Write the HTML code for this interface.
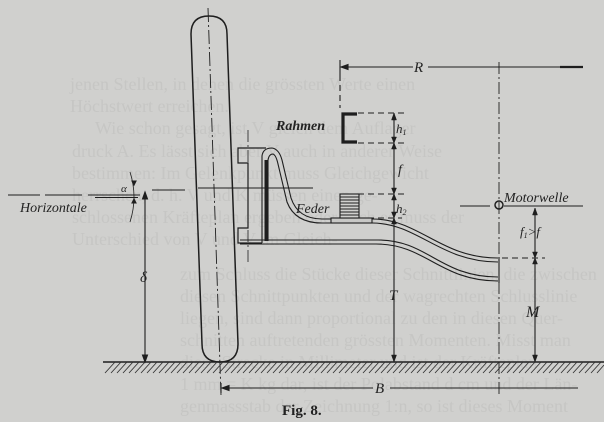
<!DOCTYPE html>
<html><head><meta charset="utf-8"><style>
html,body{margin:0;padding:0;background:#d0d0ce;}
svg{display:block}
.c{font-family:"Liberation Serif",serif;font-style:italic;fill:#222}
.bt{font-family:"Liberation Serif",serif;fill:#c6c6c4;font-size:18px}
</style></head><body>
<svg width="604" height="422" viewBox="0 0 604 422" xmlns="http://www.w3.org/2000/svg">
<rect width="604" height="422" fill="#d0d0ce"/>
<g class="bt">
<text x="70" y="90">jenen Stellen, in denen die grössten Werte einen</text>
<text x="70" y="112">Höchstwert erreichen.</text>
<text x="95" y="134">Wie schon gesagt, ist V gleich dem Auflager</text>
<text x="72" y="157">druck A. Es lässt sich aber V auch in anderer Weise</text>
<text x="72" y="179">bestimmen: Im Gelenkpunkt muss Gleichgewicht</text>
<text x="72" y="201">herrschen, d. h. V und K müssen einen ge-</text>
<text x="72" y="223">schlossenen Kräfteplan ergeben oder auch es muss der</text>
<text x="72" y="245">Unterschied von V und V im Gleich-</text>
<text x="180" y="280">zum Schluss die Stücke dieser Schnittlinien, die zwischen</text>
<text x="180" y="302">diesen Schnittpunkten und der wagrechten Schlusslinie</text>
<text x="180" y="324">liegen, sind dann proportional zu den in diesen Quer-</text>
<text x="180" y="346">schnitten auftretenden grössten Momenten. Misst man</text>
<text x="180" y="368">diese Strecke in Millimeter und ist der Kräfteplan</text>
<text x="180" y="390">1 mm = K kg dar, ist der Polabstand d cm und der Län-</text>
<text x="180" y="412">genmassstab der Zeichnung 1:n, so ist dieses Moment</text>
</g>
<g stroke="#1e1e1e" fill="none" stroke-width="1.2">
<path d="M191 34 Q191 16 209 16 Q227 16 227 34 L238 344 Q238 362 220 362 Q202 362 202 344 Z" stroke-width="1.5"/>
<line x1="208" y1="8" x2="221" y2="395" stroke-dasharray="14,3,2,3" stroke-width="0.9"/>
<line x1="103" y1="362" x2="604" y2="362" stroke-width="1.4"/>
</g>
<g stroke="#333" stroke-width="0.9">
<path d="M105 373 L115 362 M111 373 L121 362 M117 373 L127 362 M123 373 L133 362 M129 373 L139 362 M135 373 L145 362 M141 373 L151 362 M147 373 L157 362 M153 373 L163 362 M159 373 L169 362 M165 373 L175 362 M171 373 L181 362 M177 373 L187 362 M183 373 L193 362 M189 373 L199 362 M195 373 L205 362 M201 373 L211 362 M207 373 L217 362 M213 373 L223 362 M219 373 L229 362 M225 373 L235 362 M231 373 L241 362 M237 373 L247 362 M243 373 L253 362 M249 373 L259 362 M255 373 L265 362 M261 373 L271 362 M267 373 L277 362 M273 373 L283 362 M279 373 L289 362 M285 373 L295 362 M291 373 L301 362 M297 373 L307 362 M303 373 L313 362 M309 373 L319 362 M315 373 L325 362 M321 373 L331 362 M327 373 L337 362 M333 373 L343 362 M339 373 L349 362 M345 373 L355 362 M351 373 L361 362 M357 373 L367 362 M363 373 L373 362 M369 373 L379 362 M375 373 L385 362 M381 373 L391 362 M387 373 L397 362 M393 373 L403 362 M399 373 L409 362 M405 373 L415 362 M411 373 L421 362 M417 373 L427 362 M423 373 L433 362 M429 373 L439 362 M435 373 L445 362 M441 373 L451 362 M447 373 L457 362 M453 373 L463 362 M459 373 L469 362 M465 373 L475 362 M471 373 L481 362 M477 373 L487 362 M483 373 L493 362 M489 373 L499 362 M495 373 L505 362 M501 373 L511 362 M507 373 L517 362 M513 373 L523 362 M519 373 L529 362 M525 373 L535 362 M531 373 L541 362 M537 373 L547 362 M543 373 L553 362 M549 373 L559 362 M555 373 L565 362 M561 373 L571 362 M567 373 L577 362 M573 373 L583 362 M579 373 L589 362 M585 373 L595 362 M591 373 L601 362 M597 373 L604 365"/>
</g>
<g stroke="#1e1e1e" fill="none" stroke-width="1.1">
<path d="M8 195 L40 195 M45 195 L82 195 M88 195 L140 195" />
<line x1="95" y1="197.5" x2="138" y2="197.5"/>
<line x1="152" y1="190" x2="185" y2="190"/>
<line x1="198" y1="188" x2="313" y2="188"/>
<path d="M130 172 Q138 197 130 222" stroke-width="0.8"/>
<path d="M134 185 l-2 -4 l4 0 z M134 199 l-2 4 l4 0 z" fill="#1e1e1e"/>
<line x1="145" y1="192" x2="145" y2="362"/>
<path d="M145 192 l-2.5 7 l5 0 z M145 362 l-2.5 -7 l5 0 z" fill="#1e1e1e"/>
<path d="M266 148 L238 148 L238 163 L248 163 L248 228 L238 228 L238 243 L262 243" stroke-width="1.2"/>
<line x1="266" y1="160" x2="266" y2="241" stroke-width="3"/>
<line x1="248" y1="130" x2="248" y2="262" stroke-dasharray="12,3,2,3" stroke-width="0.8"/>
<path d="M262 243 L262 156 Q263 148 272 148 Q279 149 282 160 L291 198 Q298 219 322 219 L372 219 C420 219 440 258 498 258"/>
<path d="M268 241 L268 160 Q269 154 273 154 Q276 155 278 164 L287 202 Q295 223 322 223 L372 223 C418 223 440 262 498 262"/>
<path d="M240 240 L378 240 C428 240 440 277 498 277"/>
<path d="M240 244 L376 244 C426 244 440 281 498 281"/>
<line x1="499" y1="257" x2="499" y2="283"/>
<rect x="331" y="218" width="41" height="5" fill="#c8c8c6"/>
<rect x="340" y="194" width="19" height="24" fill="#d0d0ce"/>
<path d="M340 197 H359 M340 200 H359 M340 203 H359 M340 206 H359 M340 209 H359 M340 212 H359 M340 215 H359" stroke-width="0.9"/>
<path d="M357 114 L343 114 L343 142 L357 142" stroke-width="3.2"/>
<path d="M358 113 L404 113 M358 143 L404 143 M358 194 L404 194 M358 218 L402 218" stroke-dasharray="6,4" stroke-width="0.9"/>
<line x1="394" y1="113" x2="394" y2="362"/>
<path d="M394 113 l-2.5 7 l5 0 z M394 143 l-2.5 -6 l5 0 z M394 143 l-2.5 6 l5 0 z M394 194 l-2.5 -6 l5 0 z M394 194 l-2.5 6 l5 0 z M394 218 l-2.5 -6 l5 0 z M394 218 l-2.5 6 l5 0 z M394 362 l-2.5 -7 l5 0 z" fill="#1e1e1e" stroke-width="0.5"/>
<line x1="340" y1="60" x2="340" y2="75"/>
<line x1="340" y1="75" x2="340" y2="108" stroke-dasharray="6,4"/>
<line x1="341" y1="67" x2="413" y2="67"/>
<line x1="428" y1="67" x2="583" y2="67"/>
<line x1="560" y1="67" x2="583" y2="67" stroke-width="2.2"/>
<path d="M341 67 l7 -2.5 l0 5 z" fill="#1e1e1e"/>
<line x1="499" y1="62" x2="499" y2="395" stroke-dasharray="12,3,2,3" stroke-width="0.9"/>
<circle cx="499" cy="205" r="4" stroke-width="1.5"/>
<line x1="460" y1="206" x2="490" y2="206"/>
<line x1="504" y1="206" x2="583" y2="206"/>
<line x1="535" y1="208" x2="535" y2="362"/>
<path d="M535 208 l-2.5 7 l5 0 z M535 258 l-2.5 -6 l5 0 z M535 258 l-2.5 6 l5 0 z M535 362 l-2.5 -7 l5 0 z" fill="#1e1e1e" stroke-width="0.5"/>
<line x1="502" y1="258" x2="545" y2="258" stroke-dasharray="6,4"/>
<line x1="221" y1="383" x2="221" y2="393"/>
<line x1="222" y1="388" x2="373" y2="388"/>
<line x1="390" y1="388" x2="578" y2="388"/>
<path d="M222 388 l7 -2.5 l0 5 z" fill="#1e1e1e"/>
</g>
<g class="c">
<text x="20" y="212" font-size="14">Horizontale</text>
<text x="121" y="192" font-size="11">α</text>
<text x="140" y="282" font-size="15">δ</text>
<text x="276" y="130" font-size="14" font-weight="bold">Rahmen</text>
<text x="296" y="213" font-size="14">Feder</text>
<text x="396" y="133" font-size="13">h<tspan font-size="8" dy="2">1</tspan></text>
<text x="398" y="174" font-size="14">f</text>
<text x="396" y="213" font-size="13">h<tspan font-size="8" dy="2">2</tspan></text>
<text x="389" y="300" font-size="15">T</text>
<text x="414" y="72" font-size="15">R</text>
<text x="504" y="202" font-size="14">Motorwelle</text>
<text x="520" y="236" font-size="13">f<tspan font-size="8" dy="2">1</tspan><tspan dy="-2">&gt;f</tspan></text>
<text x="526" y="317" font-size="16">M</text>
<text x="375" y="393" font-size="15">B</text>
</g>
<text x="282" y="415" font-family="Liberation Serif,serif" font-size="15" font-weight="bold" fill="#222">Fig. 8.</text>
</svg>
</body></html>
